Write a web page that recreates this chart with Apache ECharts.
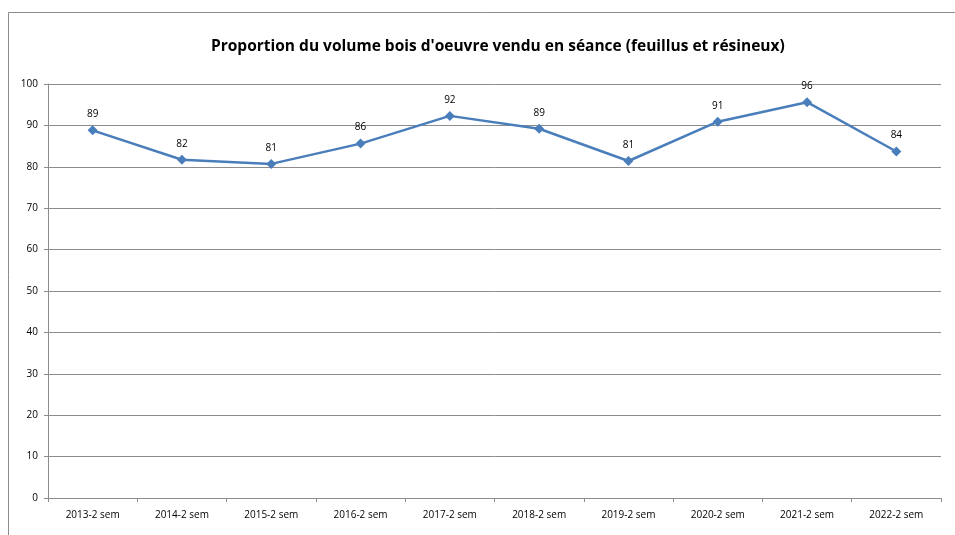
<!DOCTYPE html>
<html>
<head>
<meta charset="utf-8">
<script src="https://cdn.jsdelivr.net/npm/echarts@6/dist/echarts.min.js"></script>
<style>
	html, body { margin: 0; padding: 0; background: #fff; }
	#chart { width: 955px; height: 535px; }
</style>
</head>
<body>
<div id="chart"></div>
<script>
	// semesters on the x axis
	let categories = [
		"2013-2 sem",
		"2014-2 sem",
		"2015-2 sem",
		"2016-2 sem",
		"2017-2 sem",
		"2018-2 sem",
		"2019-2 sem",
		"2020-2 sem",
		"2021-2 sem",
		"2022-2 sem",
	];
	// proportion sold at auction (%)
	let proportion = [88.8, 81.7, 80.7, 85.6, 92.3, 89.2, 81.4, 90.9, 95.6, 83.7];
	let yTicks = [0, 10, 20, 30, 40, 50, 60, 70, 80, 90, 100];

	let chart = echarts.init(document.getElementById("chart"));
	chart.setOption({
		animation: false,
		title: {
			text: "Proportion du volume bois d'oeuvre vendu en séance (feuillus et résineux)",
			left: 206,
			top: 34,
			textStyle: {
				fontFamily: "Open Sans, sans-serif",
				fontWeight: "bold",
				fontSize: 15.5,
				color: "#000",
			},
		},
		graphic: [
			{
				type: "rect",
				shape: { x: 8.5, y: 12.5, width: 980, height: 560 },
				style: { fill: "none", stroke: "#8c8c8c", lineWidth: 1 },
				silent: true,
			},
		],
		grid: {
			left: 48,
			right: 14,
			top: 84,
			bottom: 37,
		},
		xAxis: {
			type: "category",
			data: categories,
			boundaryGap: true,
			axisLine: { show: true, lineStyle: { color: "#8c8c8c" } },
			axisTick: { show: true, length: 4, lineStyle: { color: "#8c8c8c" } },
			axisLabel: {
				fontFamily: "Open Sans, sans-serif",
				fontSize: 10,
				color: "#000",
				margin: 12,
			},
			splitLine: { show: false },
		},
		yAxis: {
			type: "value",
			min: yTicks[0],
			max: yTicks[yTicks.length - 1],
			interval: 10,
			axisLine: { show: true, lineStyle: { color: "#8c8c8c" } },
			axisTick: { show: true, length: 4, lineStyle: { color: "#8c8c8c" } },
			axisLabel: {
				fontFamily: "Open Sans, sans-serif",
				fontSize: 10,
				color: "#000",
				margin: 10,
			},
			splitLine: { show: true, lineStyle: { color: "#8c8c8c" } },
		},
		series: [
			{
				type: "line",
				data: proportion,
				symbol: "diamond",
				symbolSize: 10,
				lineStyle: { color: "#4a7ebb", width: 2.5 },
				itemStyle: { color: "#4a7ebb" },
				label: {
					show: true,
					position: "top",
					distance: 6,
					formatter: function (p) {
						return Math.round(p.value);
					},
					fontFamily: "Open Sans, sans-serif",
					fontSize: 10,
					color: "#000",
				},
			},
		],
	});
</script>
</body>
</html>
